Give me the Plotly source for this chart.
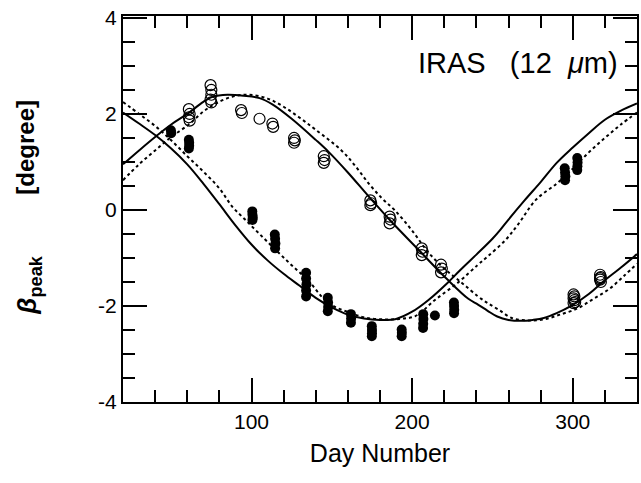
import plotly.graph_objects as go

# ---- model curves ----
solid_a_day = [20, 30, 40, 50, 60, 70, 80, 90, 100, 110, 120, 130, 140, 150, 160, 170, 180, 190, 200, 210, 222, 230, 240, 250, 255, 260, 270, 280, 290, 300, 310, 320, 330, 340]
solid_a_val = [2.03, 1.8, 1.56, 1.28, 0.95, 0.55, 0.12, -0.32, -0.72, -1.05, -1.33, -1.58, -1.83, -2.03, -2.18, -2.26, -2.29, -2.27, -2.12, -1.88, -1.52, -1.25, -0.93, -0.6, -0.41, -0.2, 0.2, 0.58, 0.98, 1.3, 1.6, 1.88, 2.07, 2.22]

dot_a_day = [20, 30, 40, 50, 60, 70, 80, 88, 96, 105, 115, 125, 135, 148, 162, 172, 183, 192, 202, 214, 229, 241, 247, 258, 266, 277, 290, 300, 310, 320, 330, 340]
dot_a_val = [2.25, 2.0, 1.75, 1.45, 1.12, 0.8, 0.45, 0.07, -0.2, -0.5, -0.83, -1.15, -1.46, -1.94, -2.15, -2.25, -2.28, -2.27, -2.21, -1.88, -1.5, -1.14, -0.97, -0.63, -0.3, 0.21, 0.55, 0.86, 1.2, 1.5, 1.78, 2.03]

solid_b_day = [20, 30, 40, 50, 60, 70, 76, 85, 95, 105, 113, 125, 140, 148, 160, 173, 187, 204, 222, 235, 241, 247, 253, 260, 268, 275, 282, 290, 299, 310, 319, 330, 340]
solid_b_val = [0.95, 1.24, 1.52, 1.78, 2.0, 2.25, 2.36, 2.4, 2.38, 2.33, 2.2, 1.9, 1.46, 1.21, 0.78, 0.28, -0.24, -0.83, -1.45, -1.85, -1.97, -2.1, -2.22, -2.29, -2.31, -2.29, -2.25, -2.15, -2.0, -1.75, -1.49, -1.2, -0.92]

dot_b_day = [20, 30, 40, 50, 61, 70, 78, 88, 98, 110, 120, 130, 140, 156, 165, 173, 181, 189, 200, 210, 220, 231, 241, 247, 254, 262, 272, 282, 292, 303, 313, 323, 332, 340]
dot_b_val = [0.62, 0.95, 1.24, 1.52, 1.78, 2.05, 2.22, 2.36, 2.4, 2.32, 2.15, 1.92, 1.67, 1.24, 0.9, 0.55, 0.25, 0.0, -0.43, -0.88, -1.22, -1.52, -1.8, -1.94, -2.08, -2.25, -2.3, -2.28, -2.18, -2.05, -1.85, -1.64, -1.37, -1.12]

# ---- observations (open circles) ----
open_day = [61, 61.5, 61, 61.5,
            74.5, 75, 75, 74.5, 75,
            93.5, 94,
            105,
            113, 113.5,
            126.5, 127, 126.5,
            145, 145.5, 145,
            174, 174.5, 174,
            186, 186.5, 186,
            206, 206.5, 206,
            218, 218.5, 218,
            300.5, 301, 300.5, 301, 301.5, 300.5,
            317, 317.5, 317, 317.5, 317]
open_val = [2.1, 2.0, 1.93, 1.86,
            2.6, 2.5, 2.4, 2.3, 2.24,
            2.08, 2.02,
            1.9,
            1.8, 1.73,
            1.5, 1.45, 1.4,
            1.12, 1.04, 0.98,
            0.2, 0.14, 0.1,
            -0.14, -0.2, -0.28,
            -0.8, -0.87, -0.94,
            -1.14, -1.22, -1.3,
            -1.76, -1.8, -1.84, -1.88, -1.92, -1.94,
            -1.35, -1.4, -1.45, -1.5, -1.42]

# ---- observations (filled circles) ----
fill_day = [49.8, 50,
            61, 61.2, 61.2, 61,
            100.5, 100.6, 100.8, 100.6,
            114.5, 114.7, 114.9, 114.7,
            134, 134, 134.2, 134, 134,
            147.5, 147.7, 147.7, 147.5,
            161.9, 162, 161.9,
            174.9, 175, 175, 174.9,
            193.5, 193.6, 193.5,
            206.9, 207, 206.9, 206.8,
            214.2,
            226, 226.1, 226.2, 226.1,
            295, 295.2, 295.4, 295.2,
            302.8, 303, 302.9, 302.8]
fill_val = [1.66, 1.6,
            1.46, 1.4, 1.34, 1.28,
            -0.03, -0.1, -0.16, -0.21,
            -0.51, -0.6, -0.7, -0.8,
            -1.31, -1.43, -1.55, -1.68, -1.8,
            -1.83, -1.93, -2.02, -2.11,
            -2.17, -2.26, -2.35,
            -2.42, -2.5, -2.57, -2.63,
            -2.49, -2.56, -2.63,
            -2.17, -2.27, -2.37, -2.46,
            -2.2,
            -1.93, -2.0, -2.08, -2.15,
            0.87, 0.78, 0.7, 0.62,
            1.08, 0.99, 0.91, 0.83]

x_ticks = [100, 200, 300]
y_ticks = [-4, -2, 0, 2, 4]

FONT = "Liberation Sans, Arial, Helvetica, sans-serif"

fig = go.Figure()
fig.add_trace(go.Scatter(x=solid_a_day, y=solid_a_val, mode="lines", line=dict(color="black", width=2), line_shape="spline"))
fig.add_trace(go.Scatter(x=dot_a_day, y=dot_a_val, mode="lines", line=dict(color="black", width=2, dash="dot"), line_shape="spline"))
fig.add_trace(go.Scatter(x=solid_b_day, y=solid_b_val, mode="lines", line=dict(color="black", width=2), line_shape="spline"))
fig.add_trace(go.Scatter(x=dot_b_day, y=dot_b_val, mode="lines", line=dict(color="black", width=2, dash="dot"), line_shape="spline"))
fig.add_trace(go.Scatter(x=open_day, y=open_val, mode="markers",
                         marker=dict(symbol="circle-open", size=11, color="black", line=dict(width=1.2))))
fig.add_trace(go.Scatter(x=fill_day, y=fill_val, mode="markers",
                         marker=dict(symbol="circle", size=10, color="black")))

fig.update_layout(
    width=641, height=483,
    margin=dict(l=123, r=2, t=16, b=81),
    paper_bgcolor="white", plot_bgcolor="white",
    showlegend=False,
    font=dict(family=FONT, color="black"),
)
fig.update_xaxes(
    range=[20, 340], tickvals=x_ticks, ticktext=[str(v) for v in x_ticks],
    ticks="inside", ticklen=24, tickwidth=2, tickcolor="black",
    minor=dict(dtick=20, tick0=0, ticks="inside", ticklen=12, tickwidth=2, tickcolor="black"),
    showline=True, linewidth=2, linecolor="black", mirror="ticks",
    showgrid=False, zeroline=False,
    tickfont=dict(size=21, family=FONT),
    title=dict(text="Day Number", font=dict(size=25, family=FONT), standoff=12),
)
fig.update_yaxes(
    range=[-4, 4.04], tickvals=y_ticks, ticktext=[str(v) for v in y_ticks],
    ticks="inside", ticklen=24, tickwidth=2, tickcolor="black",
    minor=dict(dtick=0.5, tick0=0, ticks="inside", ticklen=12, tickwidth=2, tickcolor="black"),
    showline=True, linewidth=2, linecolor="black", mirror="ticks",
    showgrid=False, zeroline=False,
    tickfont=dict(size=21, family=FONT),
)

fig.add_annotation(text="<b>[degree]</b>", textangle=-90, xref="paper", yref="paper",
                   x=-0.19, y=(401.7 - 147) / 386, xanchor="center", yanchor="middle",
                   showarrow=False, font=dict(size=24, family=FONT))
fig.add_annotation(text="<b><i>β</i><sub>peak</sub></b>", textangle=-90, xref="paper", yref="paper",
                   x=-0.184, y=(401.7 - 285) / 386, xanchor="center", yanchor="middle",
                   showarrow=False, font=dict(size=26, family=FONT))
fig.add_annotation(text="IRAS\u00a0\u00a0\u00a0(12\u00a0\u00a0<i>μ</i>m)", xref="paper", yref="paper",
                   x=(622 - 123.3) / 515.4, y=(401.7 - 63) / 386, xanchor="right", yanchor="middle",
                   showarrow=False, font=dict(size=29, family=FONT))

fig.write_html("out.html", config={"displayModeBar": False},
               post_script="document.body.style.margin='0px';document.body.style.padding='0px';")
